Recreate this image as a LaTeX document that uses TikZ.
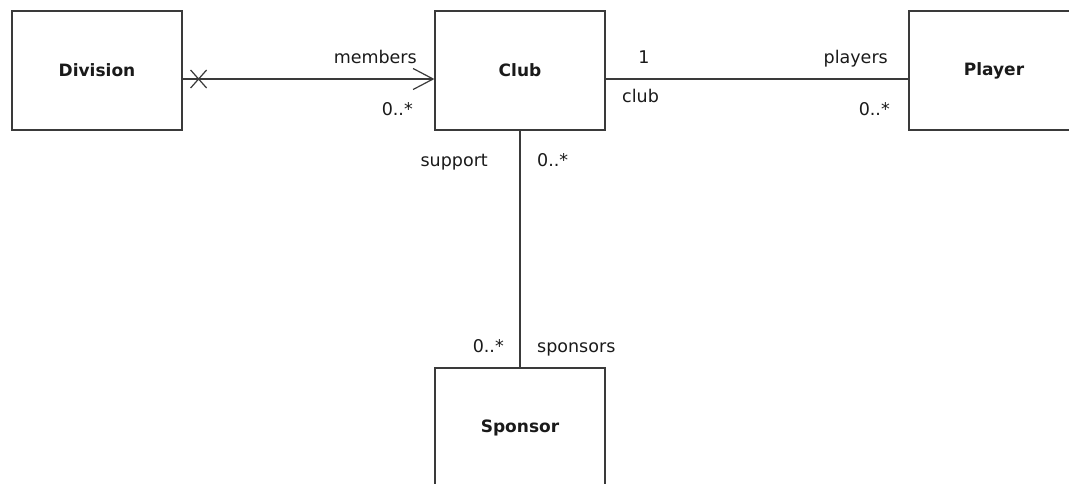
\documentclass[tikz,border=0pt]{standalone}
\usepackage{fontspec}
\setmainfont{DejaVu Sans}
\usetikzlibrary{arrows.meta}
\definecolor{lineclr}{HTML}{3A3A3A}
\definecolor{txtclr}{HTML}{1A1A1A}
\begin{document}
\begin{tikzpicture}[x=1pt,y=-1pt,
  cls/.style={draw=lineclr, line width=1.2pt, minimum width=170pt, minimum height=119pt,
    inner sep=0pt, font=\fontsize{17}{20}\selectfont\bfseries, text=txtclr},
  lbl/.style={inner sep=0pt, font=\fontsize{17.5}{20}\selectfont, text=txtclr},
  assoc/.style={draw=lineclr, line width=1.2pt},
  navarrow/.style={-{Straight Barb[length=20pt,width=21pt,line width=1.2pt]}}]
\useasboundingbox (0,0) rectangle (1069,483);
\clip (0,0) rectangle (1069,483);
\fill[white] (0,0) rectangle (1069,483);

\node[cls] (div) at (97,70.5) {Division};
\node[cls] (club) at (520,70.5) {Club};
\node[cls] (player) at (994,70.5) {Player};
\node[cls] (sponsor) at (520,427.5) {Sponsor};

% Division -> Club (navigable, non-navigable end marked with X)
\draw[assoc,navarrow] ([shift={(0,8.5)}]div.east) -- ([shift={(0,8.5)}]club.west);
\draw[assoc] ([shift={(8,-0.5)}]div.east) -- ([shift={(24,17.5)}]div.east);
\draw[assoc] ([shift={(8,17.5)}]div.east) -- ([shift={(24,-0.5)}]div.east);

% Club -- Player
\draw[assoc] ([shift={(0,8.5)}]club.east) -- ([shift={(0,8.5)}]player.west);

% Club -- Sponsor
\draw[assoc] (club.south) -- (sponsor.north);

% labels
\node[lbl,anchor=base east] (lmembers) at (417,63) {members};
\node[lbl,anchor=base east] (lmemmult) at (413,115) {0..*};
\node[lbl,anchor=base] (lone) at (644,63) {1};
\node[lbl,anchor=base west] (lclub) at (622,102) {club};
\node[lbl,anchor=base east] (lplayers) at (888,63) {players};
\node[lbl,anchor=base east] (lplmult) at (890,115) {0..*};
\node[lbl,anchor=base east] (lsupport) at (488,166) {support};
\node[lbl,anchor=base west] (lsupmult) at (537,166) {0..*};
\node[lbl,anchor=base east] (lspmult) at (504,352) {0..*};
\node[lbl,anchor=base west] (lsponsors) at (537,352) {sponsors};
\end{tikzpicture}
\end{document}
